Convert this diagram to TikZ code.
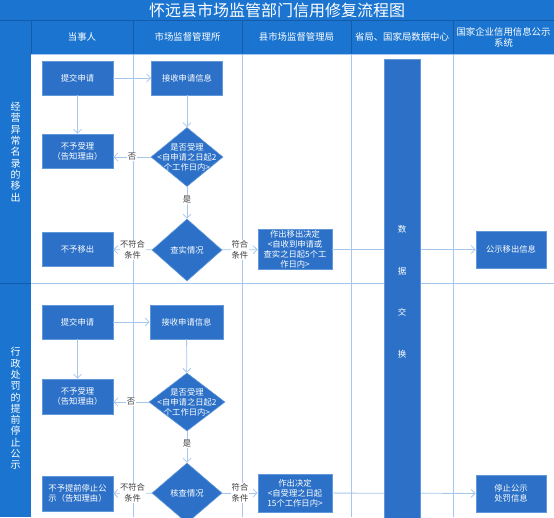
\documentclass[tikz,border=0pt]{standalone}
\usepackage{fontspec}
\setmainfont{Noto Sans CJK SC}
\usetikzlibrary{shapes.geometric,arrows.meta,positioning}
\definecolor{headblue}{RGB}{27,117,208}
\definecolor{headline}{RGB}{20,92,168}
\definecolor{boxblue}{RGB}{44,113,199}
\definecolor{boxedge}{RGB}{96,152,218}
\definecolor{gridblue}{RGB}{166,198,236}
\definecolor{lbltext}{RGB}{60,60,60}

\begin{document}
\begin{tikzpicture}[x=1pt,y=-1pt,
    box/.style={draw=boxedge,line width=0.6pt,fill=boxblue,text=white,
      minimum width=71pt,minimum height=34pt,inner sep=1pt,align=center,
      font=\fontsize{8.3}{10}\selectfont},
    dec/.style={diamond,draw=boxedge,line width=0.6pt,fill=boxblue,
      inner sep=0pt,minimum width=72pt,minimum height=59pt},
    dtext/.style={text=white,align=center,inner sep=0pt,
      font=\fontsize{8.3}{10}\selectfont},
    flow/.style={draw=gridblue,line width=0.8pt,
      -{Straight Barb[length=4pt,width=8pt]}},
    lbl/.style={fill=white,text=lbltext,inner sep=0.6pt,align=center,
      font=\fontsize{8.3}{11}\selectfont},
    lane/.style={draw=gridblue,line width=0.8pt},
    head/.style={text=white,align=center,font=\fontsize{9.4}{11}\selectfont},
    side/.style={text=white,align=center,font=\fontsize{10}{11.3}\selectfont}]
  \useasboundingbox (0,0) rectangle (554,517);
  \clip (0,0) rectangle (554,517);

  % title, header and lanes
  \fill[headblue] (0,0) rectangle (554,54);
  \fill[headblue] (0,0) rectangle (31,517);
  \draw[headline] (0,20.5) -- (554,20.5);
  \foreach \x in {31,133,242,351,453}
    \draw[headline] (\x,20.5) -- (\x,54);
  \foreach \x in {133,242,351,453}
    \draw[lane] (\x,54) -- (\x,517);
  \draw[lane] (31,54) -- (554,54);
  \draw[lane] (31,283) -- (554,283);
  \draw[headline] (0,283) -- (31,283);

  \node[text=white,inner sep=0pt,font=\fontsize{16}{17}\selectfont] (title)
    at (277,10) {怀远县市场监管部门信用修复流程图};
  \node[head] (party) at (82,37) {当事人};
  \node[head] (office) at (187.5,37) {市场监督管理所};
  \node[head] (bureau) at (296.5,37) {县市场监督管理局};
  \node[head] (center) at (402,37) {省局、国家局数据中心};
  \node[head] (system) at (503.5,37) {国家企业信用信息公示\\系统};

  \node[side] (lane1) at (15.5,152) {经\\营\\异\\常\\名\\录\\的\\移\\出};
  \node[side] (lane2) at (15.5,408.5) {行\\政\\处\\罚\\的\\提\\前\\停\\止\\公\\示};

  % removal from the abnormal list
  \node[box] (sub1) at (77.5,78) {提交申请};
  \node[box] (rcv1) at (187,78) {接收申请信息};
  \node[box] (rej1) at (77.5,151) {不予受理\\（告知理由）};
  \node[dec,label={[dtext]center:{是否受理\\<自申请之日起2\\个工作日内>}}]
    (acc1) at (187,157) {};
  \node[dec,minimum width=70pt,minimum height=62pt,
    label={[dtext]center:查实情况}] (chk1) at (187,250) {};
  \node[box] (no1) at (77.5,249.5) {不予移出};
  \node[box,minimum width=74pt,minimum height=37pt] (dcs1) at (295,249.5)
    {作出移出决定\\<自收到申请或\\查实之日起5个工\\作日内>};
  \node[box,minimum width=70pt,minimum height=37pt] (pub1) at (511,249.5)
    {公示移出信息};

  \draw[flow] (sub1) -- (rcv1);
  \draw[flow] (sub1) -- (rej1);
  \draw[flow] (rcv1) -- (acc1);
  \draw[flow] (acc1) -- node[lbl] {否} (acc1 -| rej1.east);
  \draw[flow] (acc1) -- node[lbl,pos=0.4] {是} (chk1);
  \draw[flow] (chk1) -- node[lbl] {不符合\\条件} (no1);
  \draw[flow] (chk1) -- node[lbl] {符合\\条件} (dcs1);
  \draw[flow] (dcs1) -- (pub1);

  % early end of penalty publicity
  \node[box] (sub2) at (77.5,322) {提交申请};
  \node[box,minimum width=73pt] (rcv2) at (186.5,322) {接收申请信息};
  \node[box,minimum height=35pt] (rej2) at (77.5,396.5) {不予受理\\（告知理由）};
  \node[dec,minimum width=76pt,minimum height=58pt,
    label={[dtext]center:{是否受理\\<自申请之日起2\\个工作日内>}}]
    (acc2) at (187,402) {};
  \node[dec,minimum width=70pt,minimum height=60pt,
    label={[dtext]center:核查情况}] (chk2) at (187,493) {};
  \node[box,minimum height=35pt] (no2) at (77.5,493.5)
    {不予提前停止公\\示（告知理由）};
  \node[box,minimum width=74pt,minimum height=38pt] (dcs2) at (295,493)
    {作出决定\\<自受理之日起\\15个工作日内>};
  \node[box,minimum width=70pt,minimum height=37pt] (pub2) at (511,493.5)
    {停止公示\\处罚信息};

  \draw[flow] (sub2) -- (rcv2);
  \draw[flow] (sub2) -- (rej2);
  \draw[flow] (rcv2) -- (acc2);
  \draw[flow] (acc2) -- node[lbl] {否} (acc2 -| rej2.east);
  \draw[flow] (acc2) -- node[lbl,pos=0.4] {是} (chk2);
  \draw[flow] (chk2) -- node[lbl] {不符合\\条件} (no2);
  \draw[flow] (chk2) -- node[lbl] {符合\\条件} (dcs2);
  \draw[flow] (dcs2) -- (pub2);

  % data exchange bar
  \node[box,minimum width=36pt,minimum height=470pt,anchor=north] (bus)
    at (402,59) {};
  \foreach \c [count=\i] in {数,据,交,换}
    \node[dtext,font=\fontsize{8.5}{10}\selectfont] (ch\i)
      at (402,187.5+41.7*\i) {\c};
\end{tikzpicture}
\end{document}
